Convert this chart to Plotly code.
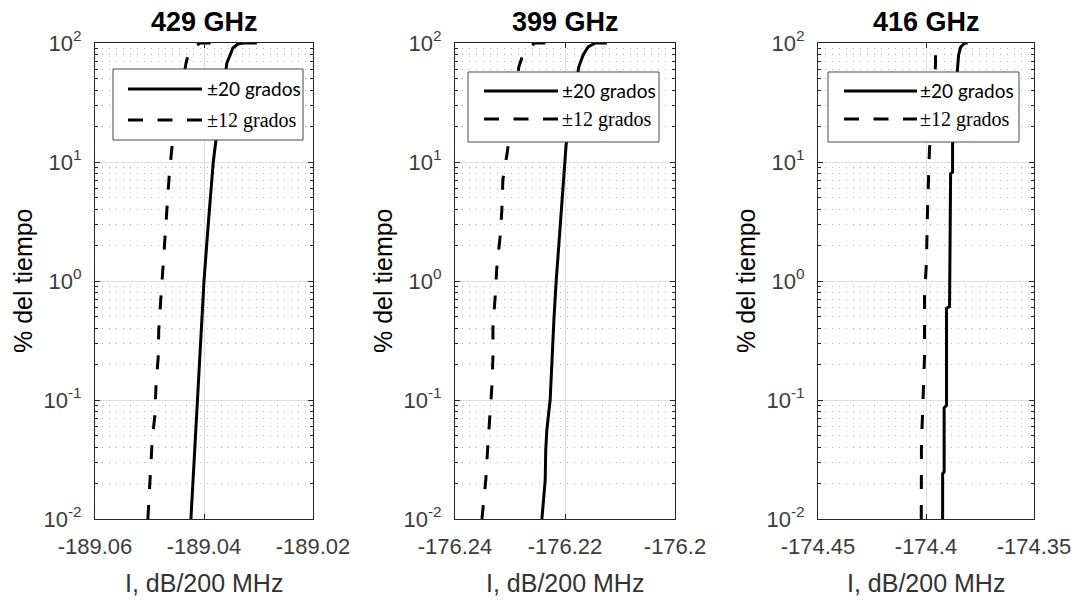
import plotly.graph_objects as go

W, H = 1080, 601

# ---- data -------------------------------------------------------------
titles = ["429 GHz", "399 GHz", "416 GHz"]
series_names = ["±20 grados", "±12 grados"]

x_ranges = [(-189.06, -189.02), (-176.24, -176.20), (-174.45, -174.35)]
x_tickvals = [[-189.06, -189.04, -189.02],
              [-176.24, -176.22, -176.20],
              [-174.45, -174.40, -174.35]]
x_ticktext = [["-189.06", "-189.04", "-189.02"],
              ["-176.24", "-176.22", "-176.2"],
              ["-174.45", "-174.4", "-174.35"]]
y_tickvals = [0.01, 0.1, 1, 10, 100]
y_ticktext = ["10<sup>-2</sup>", "10<sup>-1</sup>", "10<sup>0</sup>",
              "10<sup>1</sup>", "10<sup>2</sup>"]

# 429 GHz
f429_s20_pct = [0.01, 0.0213, 0.1, 1.0, 2.69, 10.0, 15.3, 67.9, 79.3, 90.8, 98.0, 100, 100]
f429_s20_db = [-189.0424, -189.0420, -189.0411, -189.0400, -189.0393, -189.0383,
               -189.0378, -189.0358, -189.0352, -189.0347, -189.0338, -189.0328, -189.0303]
f429_s12_pct = [0.01, 0.0213, 0.046, 0.075, 0.134, 0.23, 0.39, 0.73, 1.31, 2.44,
                3.95, 7.48, 13.1, 67.9, 79.3, 93.0, 100, 100]
f429_s12_db = [-189.0503, -189.0499, -189.0495, -189.0490, -189.0488, -189.0484,
               -189.0483, -189.0479, -189.0475, -189.0472, -189.0468, -189.0464,
               -189.0459, -189.0433, -189.0429, -189.0418, -189.0407, -189.0385]

# 399 GHz
f399_s20_pct = [0.01, 0.0213, 0.038, 0.056, 0.1, 0.217, 0.49, 1.0, 2.01, 2.69,
                10.0, 13.9, 62.8, 72.0, 79.3, 92.6, 100, 100]
f399_s20_db = [-176.2242, -176.2236, -176.2235, -176.2233, -176.2227, -176.2224,
               -176.2220, -176.2216, -176.2211, -176.2209, -176.2200, -176.2198,
               -176.2175, -176.2171, -176.2167, -176.2158, -176.2145, -176.2124]
f399_s12_pct = [0.01, 0.0213, 0.0435, 0.075, 0.129, 0.23, 0.41, 0.73, 1.29, 2.35,
                3.8, 7.06, 12.1, 62.8, 76.3, 92.0, 100, 100]
f399_s12_db = [-176.2351, -176.2344, -176.2340, -176.2336, -176.2333, -176.2331,
               -176.2331, -176.2327, -176.2324, -176.2318, -176.2315, -176.2313,
               -176.2305, -176.2284, -176.2278, -176.2264, -176.2255, -176.2231]

# 416 GHz
f416_s20_pct = [0.01, 0.024, 0.025, 0.086, 0.09, 0.59, 0.61, 8.0, 8.2, 14.0,
                61.6, 79.3, 92.0, 100, 100]
f416_s20_db = [-174.3923, -174.3923, -174.3916, -174.3916, -174.3905, -174.3905,
               -174.3891, -174.3886, -174.3877, -174.3877, -174.3854, -174.3849,
               -174.3840, -174.3821, -174.3807]
f416_s12_pct = [0.01, 0.0213, 0.046, 0.075, 0.139, 0.23, 0.73, 1.0, 1.42, 3.95,
                7.06, 12.6, 65.3, 79.3, 100]
f416_s12_db = [-174.4022, -174.4023, -174.4021, -174.4016, -174.4012, -174.4007,
               -174.4007, -174.4002, -174.3998, -174.3993, -174.3988, -174.3984,
               -174.3956, -174.3956, -174.3942]

panels = [
    ((f429_s20_db, f429_s20_pct), (f429_s12_db, f429_s12_pct)),
    ((f399_s20_db, f399_s20_pct), (f399_s12_db, f399_s12_pct)),
    ((f416_s20_db, f416_s20_pct), (f416_s12_db, f416_s12_pct)),
]

# ---- layout geometry (pixels) -----------------------------------------
panel_left = [95, 455, 818]
panel_right = [313, 675, 1034]
panel_top, panel_bottom = 43, 519

# key box per panel, offsets from the panel's top-left corner
keys = [
    dict(bx0=18, bx1=208, by0=26, by1=97, l1=46, l2=77, lx0=33, lx1=107, tx=110),
    dict(bx0=13, bx1=204, by0=29, by1=99, l1=48, l2=76, lx0=29, lx1=103, tx=105),
    dict(bx0=10, bx1=201, by0=29, by1=99, l1=48, l2=76, lx0=26, lx1=99, tx=100),
]

def px(x):
    return x / W

def py(y):
    return 1 - y / H

INK = "#262626"
TICK = "#3c3c3c"
DASH = "14px,16px"
LW = 3

fig = go.Figure()
layout = dict(
    width=W, height=H,
    margin=dict(l=0, r=0, t=0, b=0, autoexpand=False),
    paper_bgcolor="white", plot_bgcolor="white",
    showlegend=False,
    font=dict(family="Liberation Sans, Arial, sans-serif", color=INK),
)

minor_vals = [m * 10 ** e for e in range(-2, 2) for m in range(2, 10)]

annotations = []
shapes = []
for i, ((s_db, s_pct), (d_db, d_pct)) in enumerate(panels):
    n = "" if i == 0 else str(i + 1)
    xa, ya = "x" + n, "y" + n
    fig.add_trace(go.Scatter(x=s_db, y=s_pct, mode="lines", name=series_names[0],
                             line=dict(color="black", width=LW),
                             xaxis=xa, yaxis=ya, cliponaxis=False))
    fig.add_trace(go.Scatter(x=d_db, y=d_pct, mode="lines", name=series_names[1],
                             line=dict(color="black", width=LW, dash=DASH),
                             xaxis=xa, yaxis=ya, cliponaxis=False))

    layout["xaxis" + n] = dict(
        domain=[px(panel_left[i]), px(panel_right[i])],
        anchor=ya, range=list(x_ranges[i]), automargin=False,
        tickmode="array", tickvals=x_tickvals[i], ticktext=x_ticktext[i],
        ticks="inside", ticklen=5, tickcolor=INK, tickwidth=1,
        showline=True, linecolor=INK, linewidth=1, mirror="ticks",
        showgrid=True, gridcolor="#dedede", gridwidth=1, zeroline=False,
        tickfont=dict(size=22, color=TICK), ticklabelstandoff=8,
    )
    layout["yaxis" + n] = dict(
        domain=[py(panel_bottom), py(panel_top)],
        anchor=xa, type="log", range=[-2, 2], automargin=False,
        tickmode="array", tickvals=y_tickvals, ticktext=y_ticktext,
        ticks="inside", ticklen=5, tickcolor=INK, tickwidth=1,
        showline=True, linecolor=INK, linewidth=1, mirror="ticks",
        showgrid=True, gridcolor="#dedede", gridwidth=1, zeroline=False,
        tickfont=dict(size=22, color=TICK), ticklabelstandoff=8,
        minor=dict(tickmode="array", tickvals=minor_vals, ticks="inside",
                   ticklen=3, tickcolor=INK, showgrid=True,
                   gridcolor="#b4b4b4", gridwidth=1, griddash="1px,6px"),
    )

    cx = (panel_left[i] + panel_right[i]) / 2
    annotations.append(dict(text="<b>%s</b>" % titles[i], x=px(cx), y=py(22),
                            xref="paper", yref="paper", showarrow=False,
                            xanchor="center", yanchor="middle",
                            font=dict(size=27, color="black")))
    annotations.append(dict(text="I, dB/200 MHz", x=px(cx), y=py(583),
                            xref="paper", yref="paper", showarrow=False,
                            xanchor="center", yanchor="middle",
                            font=dict(size=25, color="#333333")))
    annotations.append(dict(text="% del tiempo", x=px(panel_left[i] - 72),
                            y=py((panel_top + panel_bottom) / 2),
                            xref="paper", yref="paper", showarrow=False,
                            textangle=-90, xanchor="center", yanchor="middle",
                            font=dict(size=25, color="black")))

    # key box
    k = keys[i]
    L, T = panel_left[i], panel_top
    shapes.append(dict(type="rect", xref="paper", yref="paper", layer="above",
                       x0=px(L + k["bx0"]), x1=px(L + k["bx1"]),
                       y0=py(T + k["by1"]), y1=py(T + k["by0"]),
                       fillcolor="white", line=dict(color="#4a4a4a", width=1)))
    shapes.append(dict(type="line", xref="paper", yref="paper", layer="above",
                       x0=px(L + k["lx0"]), x1=px(L + k["lx1"]),
                       y0=py(T + k["l1"]), y1=py(T + k["l1"]),
                       line=dict(color="black", width=LW)))
    shapes.append(dict(type="line", xref="paper", yref="paper", layer="above",
                       x0=px(L + k["lx0"]), x1=px(L + k["lx1"]),
                       y0=py(T + k["l2"]), y1=py(T + k["l2"]),
                       line=dict(color="black", width=LW, dash="15px,14.5px")))
    annotations.append(dict(text=series_names[0], x=px(L + k["tx"]), y=py(T + k["l1"]),
                            xref="paper", yref="paper", showarrow=False,
                            xanchor="left", yanchor="middle",
                            font=dict(family="Lato, Carlito, sans-serif", size=19,
                                      color="black")))
    annotations.append(dict(text=series_names[1], x=px(L + k["tx"]), y=py(T + k["l2"]),
                            xref="paper", yref="paper", showarrow=False,
                            xanchor="left", yanchor="middle",
                            font=dict(family="Liberation Serif, Times New Roman, serif",
                                      size=20, color="black")))

layout["annotations"] = annotations
layout["shapes"] = shapes
fig.update_layout(**layout)
fig.write_html("out.html")
